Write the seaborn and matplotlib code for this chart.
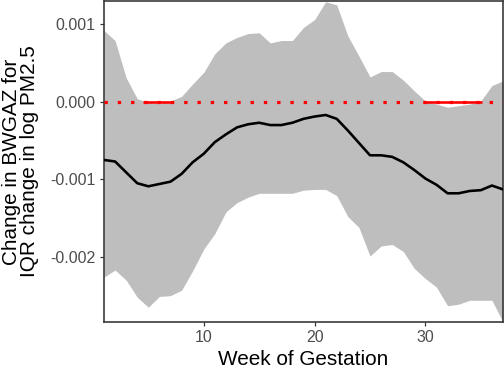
import numpy as np
import pandas as pd
import matplotlib
matplotlib.use("Agg")
import matplotlib.pyplot as plt
import seaborn as sns
from matplotlib.ticker import FuncFormatter

# weekly estimates
weeks = list(range(1, 38))
est = [-0.00075, -0.00077, -0.00091, -0.00105, -0.00109, -0.00106, -0.00103,
       -0.00093, -0.00078, -0.00067, -0.00052, -0.00042, -0.00033, -0.00029,
       -0.00027, -0.00030, -0.00030, -0.00027, -0.00022, -0.00019, -0.00017,
       -0.00022, -0.00037, -0.00053, -0.00069, -0.00069, -0.00071, -0.00078,
       -0.00088, -0.00099, -0.00107, -0.00118, -0.00118, -0.00115, -0.00114,
       -0.00108, -0.00113]
upper = [0.00092, 0.00079, 0.00031, 0.00004, -0.00001, -0.00002, 0.00001,
         0.00007, 0.00023, 0.00038, 0.00062, 0.00076, 0.00083, 0.00088,
         0.00089, 0.00076, 0.00079, 0.00079, 0.00096, 0.00106, 0.00129,
         0.00125, 0.00085, 0.00059, 0.00032, 0.00039, 0.00039, 0.00028,
         0.00014, 0.00001, -0.00003, -0.00007, -0.00005, -0.00003, 0.00001,
         0.00021, 0.00027]
lower = [-0.00226, -0.00217, -0.00230, -0.00252, -0.00265, -0.00251, -0.00250,
         -0.00243, -0.00218, -0.00190, -0.00170, -0.00142, -0.00130, -0.00123,
         -0.00118, -0.00118, -0.00118, -0.00118, -0.00114, -0.00113, -0.00113,
         -0.00121, -0.00148, -0.00162, -0.00199, -0.00186, -0.00184, -0.00193,
         -0.00215, -0.00228, -0.00239, -0.00263, -0.00261, -0.00256, -0.00256,
         -0.00256, -0.00284]

# critical windows (weeks)
win_start = [4.5, 30.0]
win_end = [7.1, 35.1]

df = pd.DataFrame({"week": weeks, "est": est, "upper": upper, "lower": lower})

sns.set_style("white")
plt.rcParams["font.family"] = ["Liberation Sans", "DejaVu Sans"]

fig = plt.figure(figsize=(7, 370 / 72), dpi=72)
ax = fig.add_axes([104 / 504, 48 / 370, 399 / 504, 321 / 370])

ax.fill_between(df["week"], df["lower"], df["upper"], color="#BEBEBE", lw=0, zorder=1)
ax.hlines([0] * len(win_start), win_start, win_end, color="red", lw=2.6, zorder=2)
ax.axhline(0, color="red", lw=3.2, ls=(0, (1.05, 3.1)), dash_capstyle="butt", zorder=3)
sns.lineplot(data=df, x="week", y="est", color="black", lw=2.6, ax=ax, zorder=4)

ax.set_xlim(1, 37)
ax.set_ylim(-0.00284, 0.0013)
ax.set_xticks([10, 20, 30])
ax.set_yticks([-0.002, -0.001, 0.0, 0.001])
ax.yaxis.set_major_formatter(FuncFormatter(lambda v, p: f"{v:.3f}".replace("\u2212", "-")))

for s in ax.spines.values():
    s.set_color("#333333")
    s.set_linewidth(1.6)

ax.tick_params(axis="both", which="major", length=4, width=1.2, color="#333333",
               labelcolor="#4D4D4D", labelsize=16, direction="out",
               bottom=True, left=True, pad=4.5)

ax.set_xlabel("Week of Gestation", fontsize=20.7, color="black")
ax.set_ylabel("Change in BWGAZ for\nIQR change in log PM2.5", fontsize=20.7,
              color="black", linespacing=0.95)
ax.xaxis.set_label_coords(0.5, -0.088)
ax.yaxis.set_label_coords(-0.163, 0.5)

fig.savefig("out.png", dpi=72)
